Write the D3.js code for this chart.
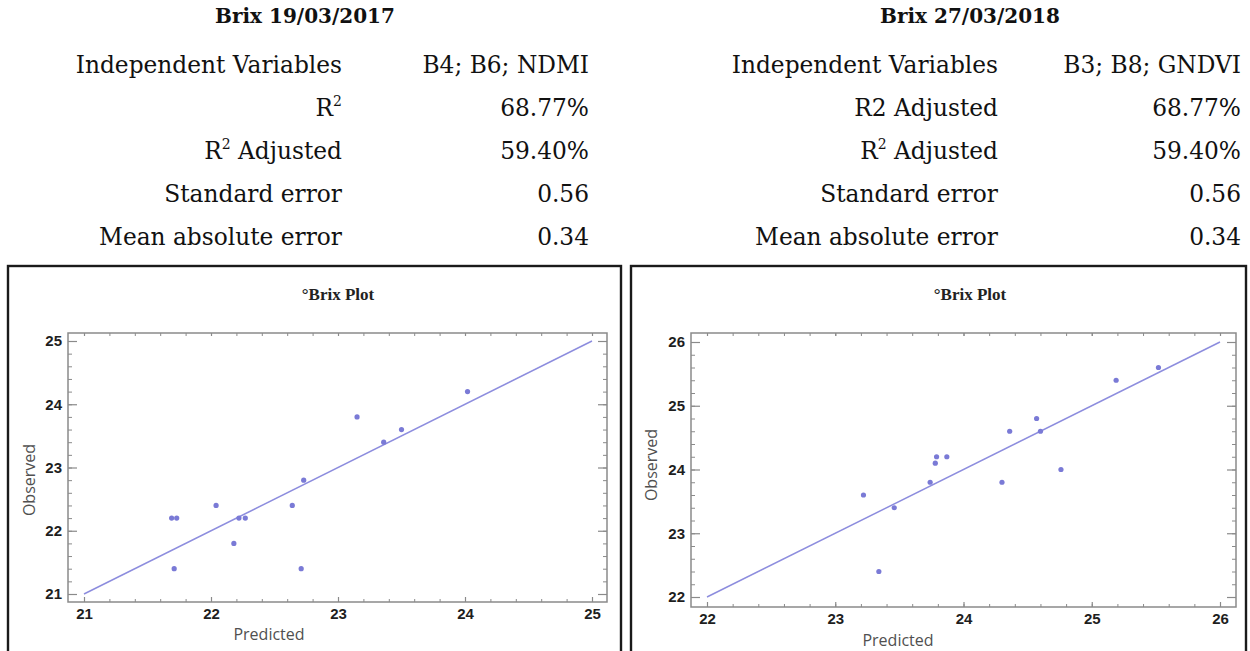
<!DOCTYPE html>
<html>
<head>
<meta charset="utf-8">
<script src="https://cdn.jsdelivr.net/npm/d3@7"></script>
<style>
  body { margin: 0; background: #fff; }
  svg { display: block; }
</style>
</head>
<body>
<script>
// table contents
let leftTitle = 'Brix 19/03/2017'
let leftLabels = ['Independent Variables', 'R2', 'R2 Adjusted', 'Standard error', 'Mean absolute error']
let leftValues = ['B4; B6; NDMI', '68.77%', '59.40%', '0.56', '0.34']
let rightTitle = 'Brix 27/03/2018'
let rightLabels = ['Independent Variables', 'R2 Adjusted', 'R2 Adjusted', 'Standard error', 'Mean absolute error']
let rightValues = ['B3; B8; GNDVI', '68.77%', '59.40%', '0.56', '0.34']
// which labels get a real superscript on the 2
let leftSup = [false, true, true, false, false]
let rightSup = [false, false, true, false, false]

// scatter data: predicted / observed
let leftPredicted = [21.69, 21.73, 21.71, 22.04, 22.18, 22.22, 22.27, 22.64, 22.71, 22.73, 23.15, 23.36, 23.50, 24.02]
let leftObserved  = [22.2, 22.2, 21.4, 22.4, 21.8, 22.2, 22.2, 22.4, 21.4, 22.8, 23.8, 23.4, 23.6, 24.2]
let rightPredicted = [23.22, 23.34, 23.46, 23.74, 23.78, 23.79, 23.87, 24.30, 24.36, 24.57, 24.60, 24.76, 25.19, 25.52]
let rightObserved  = [23.6, 22.4, 23.4, 23.8, 24.1, 24.2, 24.2, 23.8, 24.6, 24.8, 24.6, 24.0, 25.4, 25.6]
let leftTicks = [21, 22, 23, 24, 25]
let rightTicks = [22, 23, 24, 25, 26]

let svg = d3.select('body').append('svg')
  .attr('width', 1250)
  .attr('height', 651)

// ---- tables ----
function drawTable(title, labels, values, sup, cfg) {
  let g = svg.append('g')
  g.append('text')
    .attr('x', cfg.titleX).attr('y', 23)
    .attr('text-anchor', 'middle')
    .attr('font-family', 'DejaVu Serif')
    .attr('font-weight', 'bold')
    .attr('font-size', 20)
    .attr('fill', '#111')
    .text(title)

  let rowY = d3.scalePoint().domain(d3.range(labels.length)).range([73, 245])

  labels.forEach(function(lab, i) {
    let t = g.append('text')
      .attr('x', cfg.labelX).attr('y', rowY(i))
      .attr('text-anchor', 'end')
      .attr('font-family', 'DejaVu Serif')
      .attr('font-size', 23.3)
      .attr('fill', '#111')
    if (sup[i]) {
      let rest = lab.slice(2)
      t.append('tspan').text('R')
      t.append('tspan').attr('font-size', 14).attr('dy', -10).text('2')
      t.append('tspan').attr('dy', 10).text(rest)
    } else {
      t.text(lab)
    }
    g.append('text')
      .attr('x', cfg.valueX).attr('y', rowY(i))
      .attr('text-anchor', 'end')
      .attr('font-family', 'DejaVu Serif')
      .attr('font-size', 23.3)
      .attr('fill', '#111')
      .text(values[i])
  })
}

drawTable(leftTitle, leftLabels, leftValues, leftSup, { titleX: 305, labelX: 342, valueX: 589 })
drawTable(rightTitle, rightLabels, rightValues, rightSup, { titleX: 970, labelX: 998, valueX: 1241 })

// ---- scatter panels ----
function drawPlot(pred, obs, ticks, p) {
  // outer panel border
  svg.append('rect')
    .attr('x', p.box[0]).attr('y', 266)
    .attr('width', p.box[1] - p.box[0]).attr('height', 400)
    .attr('fill', 'none')
    .attr('stroke', '#1a1a1a')
    .attr('stroke-width', 2.4)

  svg.append('text')
    .attr('x', p.titleX).attr('y', 300)
    .attr('text-anchor', 'middle')
    .attr('font-family', 'Liberation Serif')
    .attr('font-weight', 'bold')
    .attr('font-size', 17)
    .attr('fill', '#222')
    .text('\u00B0Brix Plot')

  let x = d3.scaleLinear().domain([ticks[0], ticks[4]]).range(p.xr)
  let y = d3.scaleLinear().domain([ticks[0], ticks[4]]).range(p.yr)
  let minor = d3.range(ticks[0], ticks[4] + 0.001, 0.2).map(function(v) { return +v.toFixed(1) })

  let fx0 = p.frame[0], fx1 = p.frame[1], fy0 = p.frame[2], fy1 = p.frame[3]

  let axes = [
    { a: d3.axisLeft(y), t: 'translate(' + fx0 + ',0)', major: -9, minorSize: -4, labels: true },
    { a: d3.axisRight(y), t: 'translate(' + fx1 + ',0)', major: -9, minorSize: -4, labels: false },
    { a: d3.axisBottom(x), t: 'translate(0,' + fy1 + ')', major: -5, minorSize: -3, labels: true },
    { a: d3.axisTop(x), t: 'translate(0,' + fy0 + ')', major: -3, minorSize: -3, labels: false }
  ]

  axes.forEach(function(ax) {
    let gMinor = svg.append('g')
      .attr('transform', ax.t)
      .call(ax.a.tickValues(minor).tickSize(ax.minorSize).tickFormat(''))
    gMinor.select('.domain').remove()
    gMinor.selectAll('line').attr('stroke', '#8a8a8a')

    let gMajor = svg.append('g')
      .attr('transform', ax.t)
      .call(ax.a.tickValues(ticks).tickSize(ax.major).tickPadding(ax.labels ? 6 : 0)
        .tickFormat(ax.labels ? d3.format('d') : ''))
    gMajor.select('.domain').remove()
    gMajor.selectAll('line').attr('stroke', '#8a8a8a').attr('stroke-width', 1.2)
    gMajor.selectAll('text')
      .attr('font-family', 'Liberation Sans')
      .attr('font-weight', 'bold')
      .attr('font-size', 15)
      .attr('fill', '#1e1e1e')
  })

  // frame
  svg.append('rect')
    .attr('x', fx0).attr('y', fy0)
    .attr('width', fx1 - fx0).attr('height', fy1 - fy0)
    .attr('fill', 'none')
    .attr('stroke', '#8a8a8a')
    .attr('stroke-width', 1.5)

  // 1:1 line
  svg.append('line')
    .attr('x1', x(ticks[0])).attr('y1', y(ticks[0]))
    .attr('x2', x(ticks[4])).attr('y2', y(ticks[4]))
    .attr('stroke', '#8d8dde')
    .attr('stroke-width', 1.5)

  svg.append('g').selectAll('circle')
    .data(pred)
    .enter()
    .append('circle')
      .attr('cx', function(d) { return x(d) })
      .attr('cy', function(d, i) { return y(obs[i]) })
      .attr('r', 2.6)
      .attr('fill', '#7a7ad6')

  svg.append('text')
    .attr('transform', 'translate(' + p.obsX + ',' + p.obsY + ') rotate(-90)')
    .attr('text-anchor', 'middle')
    .attr('font-family', 'Open Sans')
    .attr('font-size', 16)
    .attr('fill', '#505050')
    .text('Observed')

  svg.append('text')
    .attr('x', p.predX).attr('y', p.predY)
    .attr('text-anchor', 'middle')
    .attr('font-family', 'Open Sans')
    .attr('font-size', 16)
    .attr('fill', '#505050')
    .text('Predicted')
}

drawPlot(leftPredicted, leftObserved, leftTicks, {
  box: [8, 621], titleX: 338,
  xr: [84, 592], yr: [594, 341], frame: [68, 607, 333, 602],
  obsX: 35, obsY: 480, predX: 269, predY: 640
})
drawPlot(rightPredicted, rightObserved, rightTicks, {
  box: [631, 1246], titleX: 970,
  xr: [707, 1220], yr: [597, 342], frame: [691, 1236, 333, 607],
  obsX: 657, obsY: 465, predX: 898, predY: 646
})
</script>
</body>
</html>
